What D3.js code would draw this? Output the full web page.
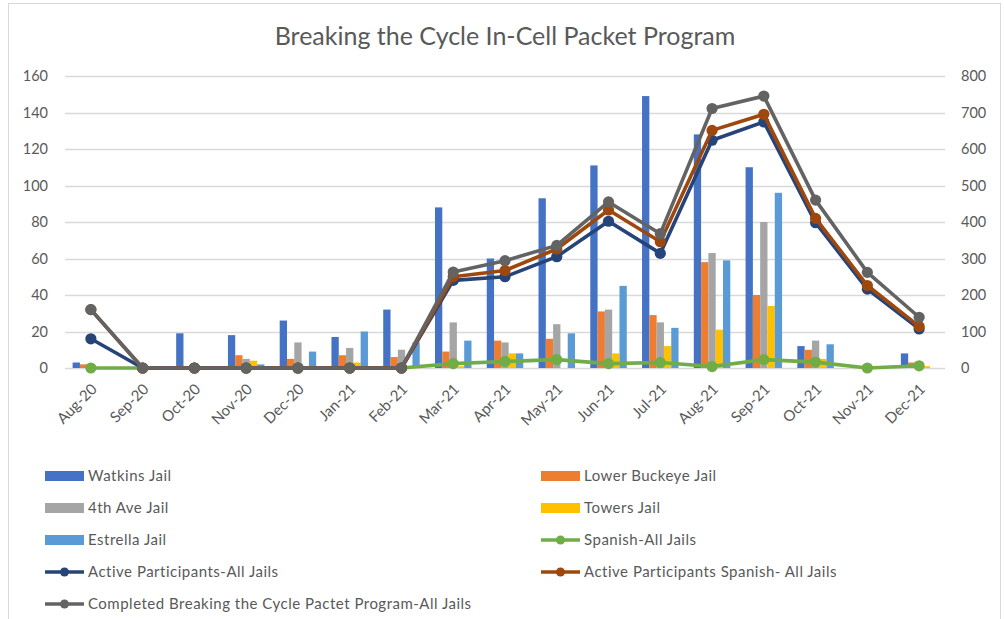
<!DOCTYPE html>
<html>
<head>
<meta charset="utf-8">
<script src="https://cdn.jsdelivr.net/npm/d3@7"></script>
<style>
  html, body { margin: 0; padding: 0; background: #fff; }
  svg { display: block; font-family: Lato, "Open Sans", sans-serif; }
</style>
</head>
<body>
<svg id="chart" width="1004" height="619"></svg>
<script>
// Monthly categories
const months = ["Aug-20","Sep-20","Oct-20","Nov-20","Dec-20","Jan-21","Feb-21","Mar-21","Apr-21",
                "May-21","Jun-21","Jul-21","Aug-21","Sep-21","Oct-21","Nov-21","Dec-21"];

// Per-jail counts (left axis)
const watkins      = [3, 0, 19, 18, 26, 17, 32, 88, 60, 93, 111, 149, 128, 110, 12, 0, 8];
const lowerBuckeye = [2, 0, 1, 7, 5, 7, 6, 9, 15, 16, 31, 29, 58, 40, 10, 0, 3];
const fourthAve    = [0, 0, 0, 5, 14, 11, 10, 25, 14, 24, 32, 25, 63, 80, 15, 0, 0];
const towers       = [0, 0, 1, 4, 0, 3, 1, 1, 8, 0, 8, 12, 21, 34, 5, 0, 1];
const estrella     = [0, 0, 0, 2, 9, 20, 14, 15, 8, 19, 45, 22, 59, 96, 13, 0, 0];

// All-jail totals (right axis)
const spanishAll      = [0, 0, 0, 0, 0, 0, 0, 12, 18, 23, 12, 15, 4, 23, 16, 0, 6];
const activeAll       = [80, 0, 0, 0, 0, 0, 0, 240, 250, 305, 402, 314, 624, 674, 398, 216, 107];
const activeSpanish   = [160, 0, 0, 0, 0, 0, 0, 250, 267, 326, 433, 346, 651, 695, 410, 226, 114];
const completedAll    = [160, 0, 0, 0, 0, 0, 0, 263, 294, 336, 455, 368, 711, 745, 460, 262, 139];

const leftTicks  = [0, 20, 40, 60, 80, 100, 120, 140, 160];
const rightTicks = [0, 100, 200, 300, 400, 500, 600, 700, 800];

const barSeries = [
  { name: "Watkins Jail",      values: watkins,      color: "#4472C4" },
  { name: "Lower Buckeye Jail", values: lowerBuckeye, color: "#ED7D31" },
  { name: "4th Ave Jail",      values: fourthAve,    color: "#A5A5A5" },
  { name: "Towers Jail",       values: towers,       color: "#FFC000" },
  { name: "Estrella Jail",     values: estrella,     color: "#5B9BD5" }
];
const lineSeries = [
  { name: "Spanish-All Jails",                    values: spanishAll,    color: "#70AD47" },
  { name: "Active Participants-All Jails",        values: activeAll,     color: "#264478" },
  { name: "Active Participants Spanish- All Jails", values: activeSpanish, color: "#9E480E" },
  { name: "Completed Breaking the Cycle Pactet Program-All Jails", values: completedAll, color: "#636363" }
];

const svg = d3.select("#chart");
const textColor = "#595959";
const gridColor = "#D9D9D9";

// Outer chart frame
svg.append("rect")
  .attr("x", 8.5).attr("y", 3.5).attr("width", 992).attr("height", 625)
  .attr("fill", "none").attr("stroke", gridColor);

// Title
svg.append("text")
  .attr("x", 505).attr("y", 45)
  .attr("text-anchor", "middle")
  .attr("fill", textColor)
  .style("font-size", "25px")
  .text("Breaking the Cycle In-Cell Packet Program");

const plot = { left: 65, right: 945, top: 76, bottom: 368 };

const x = d3.scaleBand().domain(months).range([plot.left, plot.right]).paddingInner(0).paddingOuter(0);
const yL = d3.scaleLinear().domain([0, 160]).range([plot.bottom, plot.top]);
const yR = d3.scaleLinear().domain([0, 800]).range([plot.bottom, plot.top]);

// Horizontal gridlines
svg.append("g").selectAll("line").data(leftTicks).join("line")
  .attr("x1", plot.left).attr("x2", plot.right)
  .attr("y1", d => Math.round(yL(d)) + 0.5).attr("y2", d => Math.round(yL(d)) + 0.5)
  .attr("stroke", gridColor).attr("stroke-width", 1.3);

// Left axis labels
const leftAxis = d3.axisLeft(yL).tickValues(leftTicks).tickSize(0).tickPadding(0);
const gL = svg.append("g").attr("transform", `translate(48,0)`).call(leftAxis);
gL.select(".domain").remove();
gL.selectAll("text").attr("fill", textColor).style("font-size", "14.5px").style("font-family", "Lato, sans-serif");

// Right axis labels
const rightAxis = d3.axisRight(yR).tickValues(rightTicks).tickSize(0).tickPadding(0);
const gR = svg.append("g").attr("transform", `translate(961,0)`).call(rightAxis);
gR.select(".domain").remove();
gR.selectAll("text").attr("fill", textColor).style("font-size", "14.5px").style("font-family", "Lato, sans-serif");

// Category axis labels, rotated
const bottomAxis = d3.axisBottom(x).tickSize(0).tickPadding(0);
const gB = svg.append("g").attr("transform", `translate(0,${plot.bottom})`).call(bottomAxis);
gB.select(".domain").remove();
gB.selectAll("text")
  .attr("fill", textColor)
  .style("font-size", "15px").style("font-family", "Lato, sans-serif")
  .attr("text-anchor", "end")
  .attr("dy", "0")
  .attr("transform", "translate(7,22) rotate(-45)");

// Clustered bars
const groupWidth = x.bandwidth() * 0.705;
const xb = d3.scaleBand().domain(barSeries.map(s => s.name)).range([0, groupWidth]).padding(0);
const barsG = svg.append("g");
barSeries.forEach(s => {
  barsG.append("g").selectAll("rect").data(s.values.map((v, i) => ({ m: months[i], v }))).join("rect")
    .attr("x", d => x(d.m) + (x.bandwidth() - groupWidth) / 2 + xb(s.name))
    .attr("width", xb.bandwidth())
    .attr("y", d => yL(d.v))
    .attr("height", d => yL(0) - yL(d.v))
    .attr("fill", s.color);
});

// Lines with circle markers (right axis)
const cx = m => x(m) + x.bandwidth() / 2;
const lineGen = d3.line().x(d => cx(d.m)).y(d => yR(d.v));
lineSeries.forEach(s => {
  const pts = s.values.map((v, i) => ({ m: months[i], v }));
  const g = svg.append("g");
  g.append("path").datum(pts)
    .attr("d", lineGen)
    .attr("fill", "none").attr("stroke", s.color)
    .attr("stroke-width", 3.6).attr("stroke-linejoin", "round").attr("stroke-linecap", "round");
  g.selectAll("circle").data(pts).join("circle")
    .attr("cx", d => cx(d.m)).attr("cy", d => yR(d.v))
    .attr("r", 5.6).attr("fill", s.color);
});

// Legend
const legendItems = [
  { ...barSeries[0], type: "bar" }, { ...barSeries[1], type: "bar" },
  { ...barSeries[2], type: "bar" }, { ...barSeries[3], type: "bar" },
  { ...barSeries[4], type: "bar" }, { ...lineSeries[0], type: "line" },
  { ...lineSeries[1], type: "line" }, { ...lineSeries[2], type: "line" },
  { ...lineSeries[3], type: "line" }
];
const colX = [45, 541];
const rowY0 = 476, rowStep = 32;
const lg = svg.append("g");
legendItems.forEach((item, i) => {
  const cxL = colX[i % 2];
  const cyL = rowY0 + Math.floor(i / 2) * rowStep;
  const g = lg.append("g").attr("transform", `translate(${cxL},${cyL})`);
  if (item.type === "bar") {
    g.append("rect").attr("x", 0).attr("y", -5).attr("width", 39).attr("height", 10).attr("fill", item.color);
  } else {
    g.append("line").attr("x1", 0).attr("x2", 39).attr("y1", 0).attr("y2", 0)
      .attr("stroke", item.color).attr("stroke-width", 3.6);
    g.append("circle").attr("cx", 19.5).attr("cy", 0).attr("r", 4.5).attr("fill", item.color);
  }
  g.append("text").attr("x", 43).attr("y", 5)
    .attr("fill", textColor).style("font-size", "15px").style("letter-spacing", "0.5px")
    .text(item.name);
});
</script>
</body>
</html>
